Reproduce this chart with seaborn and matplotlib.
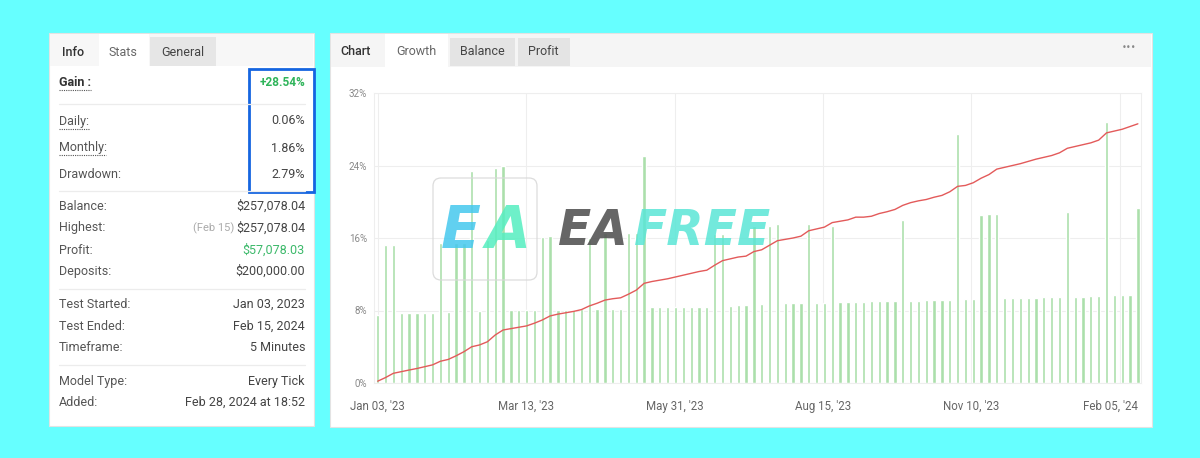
import numpy as np
import pandas as pd
import matplotlib
matplotlib.use("Agg")
import matplotlib.pyplot as plt
import matplotlib.transforms as mtransforms
from matplotlib.patches import Rectangle, FancyBboxPatch
import seaborn as sns

# ---------------- data ----------------
bar_values = [
    7.5, 15.2, 15.2, 7.7, 7.7, 7.7, 7.7, 7.7, 15.4, 7.8,
    15.5, 15.5, 23.4, 8.0, 15.8, 23.7, 23.9, 8.1, 8.1, 8.1,
    8.1, 16.1, 16.2, 8.1, 8.1, 8.1, 8.2, 16.0, 8.2, 16.5,
    8.2, 8.2, 16.6, 16.6, 25.1, 8.4, 8.4, 8.4, 8.4, 8.4,
    8.4, 8.4, 8.4, 16.4, 16.4, 8.5, 8.6, 8.6, 17.3, 8.7,
    17.3, 17.5, 8.8, 8.8, 8.8, 17.6, 8.8, 8.8, 17.3, 8.9,
    8.9, 8.9, 8.9, 9.0, 9.0, 9.0, 9.0, 18.0, 9.0, 9.1,
    9.2, 9.2, 9.2, 9.2, 27.5, 9.3, 9.3, 18.5, 18.6, 18.6,
    9.4, 9.4, 9.4, 9.4, 9.4, 9.5, 9.5, 9.5, 18.9, 9.5,
    9.5, 9.6, 9.6, 28.8, 9.7, 9.7, 9.7, 19.3,
]
growth_values = [
    0.2, 0.6, 1.07, 1.25, 1.43, 1.6, 1.8, 2.0, 2.4, 2.6,
    3.0, 3.45, 4.0, 4.2, 4.55, 5.3, 5.85, 6.0, 6.15, 6.3,
    6.6, 6.95, 7.4, 7.6, 7.75, 7.9, 8.1, 8.5, 8.8, 9.15,
    9.3, 9.4, 9.8, 10.25, 11.0, 11.2, 11.35, 11.5, 11.7, 11.9,
    12.1, 12.3, 12.45, 13.0, 13.5, 13.7, 13.9, 14.0, 14.5, 14.7,
    15.2, 15.7, 15.85, 16.0, 16.2, 16.8, 17.0, 17.2, 17.7, 17.85,
    18.0, 18.3, 18.3, 18.4, 18.7, 18.9, 19.15, 19.6, 19.9, 20.1,
    20.25, 20.5, 20.7, 21.1, 21.7, 21.8, 22.1, 22.6, 23.0, 23.6,
    23.8, 24.0, 24.2, 24.45, 24.7, 24.9, 25.1, 25.4, 25.9, 26.1,
    26.3, 26.5, 26.8, 27.6, 27.8, 28.0, 28.3, 28.6,
]
x_tick_labels = ["Jan 03, '23", "Mar 13, '23", "May 31, '23", "Aug 15, '23", "Nov 10, '23", "Feb 05, '24"]
y_tick_values = [0, 8, 16, 24, 32]
y_tick_labels = ["0%", "8%", "16%", "24%", "32%"]

stats_labels = ["Daily:", "Monthly:", "Drawdown:", "Balance:", "Highest:", "Profit:", "Deposits:",
                "Test Started:", "Test Ended:", "Timeframe:", "Model Type:", "Added:"]
stats_values = ["0.06%", "1.86%", "2.79%", "$257,078.04", "$257,078.04", "$57,078.03", "$200,000.00",
                "Jan 03, 2023", "Feb 15, 2024", "5 Minutes", "Every Tick", "Feb 28, 2024 at 18:52"]
gain_label = "Gain :"
gain_value = "+28.54%"
highest_date = "(Feb 15)"
left_tabs = ["Info", "Stats", "General"]
right_tabs = ["Chart", "Growth", "Balance", "Profit"]

df = pd.DataFrame({"idx": np.arange(len(bar_values)), "bar": bar_values, "growth": growth_values})

# ---------------- figure ----------------
sns.set_theme(style="white")
plt.rcParams["font.family"] = ["Roboto", "DejaVu Sans"]

W, H = 1200, 458
fig = plt.figure(figsize=(12, 4.58), dpi=100)
fig.patch.set_facecolor("#66ffff")

bg = fig.add_axes([0, 0, 1, 1], zorder=0)
bg.set_xlim(0, W)
bg.set_ylim(H, 0)
bg.axis("off")

# left panel
bg.add_patch(Rectangle((49, 33), 265, 393, facecolor="white", edgecolor="#e3e3e3", lw=0.8))
bg.add_patch(Rectangle((50, 34), 263, 32, facecolor="#f7f7f7", edgecolor="none"))
bg.add_patch(Rectangle((99, 34), 50, 32, facecolor="white", edgecolor="none"))
bg.add_patch(Rectangle((150, 37), 66, 29, facecolor="#e6e6e6", edgecolor="none"))
bg.text(73, 52, left_tabs[0], ha="center", va="center", fontsize=9, color="#333333", fontweight="medium")
bg.text(123, 52, left_tabs[1], ha="center", va="center", fontsize=9, color="#666666")
bg.text(183, 52, left_tabs[2], ha="center", va="center", fontsize=9, color="#444444")

LX, RX = 59, 305
bg.text(LX, 82, gain_label, ha="left", va="center", fontsize=9, color="#333333", fontweight="bold")
bg.plot([LX, 91], [90, 90], ls=(0, (1, 1)), color="#555555", lw=0.8)
bg.text(RX, 83, gain_value, ha="right", va="center", fontsize=8.5, color="#2fb45a", fontweight="bold")

row_y = [121, 148, 174, 206, 228, 250, 271.5, 304, 326, 347.5, 381, 402.5]
for lab, val, y in zip(stats_labels, stats_values, row_y):
    bg.text(LX, y, lab, ha="left", va="center", fontsize=9, color="#555555")
    col = "#3cb96a" if lab == "Profit:" else "#444444"
    bg.text(RX, y, val, ha="right", va="center", fontsize=9, color=col)
bg.text(234, 228, highest_date, ha="right", va="center", fontsize=8, color="#aaaaaa")
bg.plot([LX, 89], [128.5, 128.5], ls=(0, (1, 1)), color="#555555", lw=0.8)
bg.plot([LX, 106], [155, 155], ls=(0, (1, 1)), color="#555555", lw=0.8)
for y in [104, 190.5, 289, 365]:
    bg.plot([LX, RX], [y, y], color="#ececec", lw=0.9)
bg.add_patch(Rectangle((248.5, 68.5), 65, 123, facecolor="none", edgecolor="#1565e0", lw=2.0))

# right panel
bg.add_patch(Rectangle((330, 33), 822, 394, facecolor="white", edgecolor="#e3e3e3", lw=0.8))
bg.add_patch(Rectangle((331, 34), 820, 33, facecolor="#f5f5f5", edgecolor="none"))
bg.add_patch(Rectangle((385, 34), 63, 33, facecolor="white", edgecolor="none"))
bg.add_patch(Rectangle((450, 38), 65, 28, facecolor="#e4e4e4", edgecolor="none"))
bg.add_patch(Rectangle((518, 38), 52, 28, facecolor="#e4e4e4", edgecolor="none"))
bg.text(356, 51.5, right_tabs[0], ha="center", va="center", fontsize=9, color="#333333", fontweight="medium")
bg.text(416, 51.5, right_tabs[1], ha="center", va="center", fontsize=9, color="#666666")
bg.text(482, 51.5, right_tabs[2], ha="center", va="center", fontsize=9, color="#444444")
bg.text(543, 51.5, right_tabs[3], ha="center", va="center", fontsize=9, color="#444444")
bg.text(1129, 48, "\u2022\u2022\u2022", ha="center", va="center", fontsize=6, color="#888888",
        family=["DejaVu Sans"])

# ---------------- chart ----------------
px_l, px_r, px_t, px_b = 374, 1141, 93, 383
ax = fig.add_axes([px_l / W, 1 - px_b / H, (px_r - px_l) / W, (px_b - px_t) / H], zorder=1)
ax.set_facecolor("white")
sns.barplot(data=df, x="idx", y="bar", color="#abdfab", saturation=1, width=0.42,
            errorbar=None, ax=ax, zorder=2)
sns.lineplot(data=df, x="idx", y="growth", color="#e35a5a", lw=1.0, ax=ax, zorder=3)

ax.set_xlim(-0.47, 97.4)
ax.set_ylim(0, 32)
tick_pos = [0, 18.94, 37.88, 56.82, 75.76, 94.7]
ax.set_xticks(tick_pos)
ax.set_xticklabels(x_tick_labels, fontsize=8.3, color="#666666")
ax.set_yticks(y_tick_values)
ax.set_yticklabels(y_tick_labels, fontsize=7, color="#888888")
ax.tick_params(axis="both", length=0)
ax.tick_params(axis="x", pad=12)
ax.tick_params(axis="y", pad=5)
last = ax.get_xticklabels()[-1]
last.set_transform(last.get_transform() + mtransforms.ScaledTranslation(-9 / 100, 0, fig.dpi_scale_trans))
ax.set_xlabel("")
ax.set_ylabel("")
ax.grid(True, color="#eeeeee", lw=0.8)
ax.set_axisbelow(True)
for s in ax.spines.values():
    s.set_color("#eeeeee")
    s.set_linewidth(0.8)

# ---------------- watermark ----------------
ov = fig.add_axes([0, 0, 1, 1], zorder=5)
ov.set_xlim(0, W)
ov.set_ylim(H, 0)
ov.axis("off")
ov.patch.set_alpha(0)
ov.add_patch(FancyBboxPatch((433, 178), 104, 102, boxstyle="round,pad=0,rounding_size=8",
                            facecolor="none", edgecolor="#d8d8d8", lw=0.9, alpha=0.9))
ov.text(461, 231, "E", ha="center", va="center", fontsize=42, fontweight="bold", style="italic",
        color="#45c8ee", alpha=0.85, family=["DejaVu Sans"])
ov.text(508, 231, "A", ha="center", va="center", fontsize=42, fontweight="bold", style="italic",
        color="#55eec0", alpha=0.85, family=["DejaVu Sans"])
ov.text(558, 231, "EA", ha="left", va="center", fontsize=35, fontweight="bold", style="italic",
        color="#555555", alpha=0.9, family=["DejaVu Sans"])
ov.text(634, 231, "FREE", ha="left", va="center", fontsize=35, fontweight="bold", style="italic",
        color="#5ae6d6", alpha=0.85, family=["DejaVu Sans"])

fig.savefig("out.png", dpi=100, facecolor=fig.get_facecolor())
